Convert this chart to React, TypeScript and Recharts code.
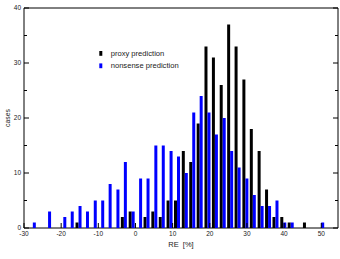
import React from 'react';
import { BarChart, Bar, XAxis, YAxis, Legend, ReferenceArea } from 'recharts';

// histogram bins (centre of each bin, RE in %)
const binCenters = [
  -27.7, -25.6, -23.6, -21.6, -19.5, -17.5, -15.4, -13.4, -11.3, -9.3,
  -7.3, -5.2, -3.2, -1.1, 0.9, 2.9, 5.0, 7.0, 9.1, 11.1,
  13.2, 15.2, 17.2, 19.3, 21.3, 23.4, 25.4, 27.4, 29.5, 31.5,
  33.6, 35.6, 37.6, 39.7, 41.7, 43.8, 45.8, 47.8, 49.9,
];

const proxyCases = [
  0, 0, 0, 0, 0, 0, 1, 0, 0, 0,
  0, 0, 2, 3, 0, 2, 3, 2, 5, 5,
  14, 12, 19, 33, 31, 26, 37, 33, 27, 18,
  14, 7, 2, 2, 1, 0, 1, 0, 0,
];

const nonsenseCases = [
  1, 0, 3, 0, 2, 3, 4, 3, 5, 5,
  8, 7, 12, 3, 9, 9, 15, 15, 14, 13,
  10, 21, 24, 21, 17, 20, 14, 11, 9, 6,
  4, 4, 5, 1, 1, 0, 0, 0, 1,
];

const seriesNames = ['proxy prediction', 'nonsense prediction'];
const xTicks = [-30, -20, -10, 0, 10, 20, 30, 40, 50];
const yTicks = [0, 5, 10, 15, 20, 25, 30, 35, 40];

const data = binCenters.map((x, i) => ({
  x,
  proxy: proxyCases[i],
  nonsense: nonsenseCases[i],
}));

const FONT = '"Liberation Sans", Arial, sans-serif';
const TEXT_COLOR = '#222';

// bottom ticks: label below, tick mark pointing into the plot
const BottomTick = (props: any) => {
  const { x, y, payload } = props;
  const axisY = y - 3;
  return (
    <g>
      <line x1={x} x2={x} y1={axisY} y2={axisY - 5} stroke="#000" />
      <text x={x} y={y} dy="0.71em" textAnchor="middle" fontSize={6.5} fontFamily={FONT} fill={TEXT_COLOR}>
        {payload.value}
      </text>
    </g>
  );
};

const LeftTick = (props: any) => {
  const { x, y, payload } = props;
  const axisX = x + 3;
  const major = payload.value % 10 === 0;
  return (
    <g>
      <line x1={axisX} x2={axisX + (major ? 5 : 3)} y1={y} y2={y} stroke="#000" />
      {major && (
        <text x={x} y={y} dy="0.35em" textAnchor="end" fontSize={6.5} fontFamily={FONT} fill={TEXT_COLOR}>
          {payload.value}
        </text>
      )}
    </g>
  );
};

const RightTick = (props: any) => {
  const { x, y, payload } = props;
  const major = payload.value % 10 === 0;
  return <line x1={x} x2={x - (major ? 5 : 3)} y1={y} y2={y} stroke="#000" />;
};

const renderLegend = (props: any) => {
  const items = [...(props.payload || [])].sort(
    (a: any, b: any) => seriesNames.indexOf(a.value) - seriesNames.indexOf(b.value)
  );
  return (
    <svg width={100} height={26}>
      {items.map((entry: any, i: number) => (
        <g key={entry.value}>
          <rect x={3.3} y={6 + i * 12.4} width={3} height={4.8} fill={entry.color} />
          <text
            x={14.7}
            y={8.3 + i * 12.4}
            dy="0.35em"
            fontSize={7.6}
            fontFamily={FONT}
            fill={TEXT_COLOR}
          >
            {entry.value}
          </text>
        </g>
      ))}
    </svg>
  );
};

export default function App() {
  return (
    <div style={{ position: 'absolute', left: 0, top: 0, background: '#fff' }}>
      <BarChart
        width={340}
        height={259}
        data={data}
        margin={{ top: 8, right: 0, bottom: 0, left: 0 }}
        barSize={3}
        barGap={0}
      >
        <XAxis
          dataKey="x"
          type="number"
          domain={[-30, 54.5]}
          ticks={xTicks}
          allowDataOverflow
          height={31}
          axisLine={false}
          tickLine={false}
          tickSize={0}
          tickMargin={3}
          tick={<BottomTick />}
          interval={0}
          label={{
            value: 'RE\u00a0 [%]',
            position: 'insideBottom',
            offset: 12,
            fontSize: 7.5,
            fontFamily: FONT,
            fill: TEXT_COLOR,
          }}
        />
        <YAxis
          yAxisId="left"
          domain={[0, 40]}
          ticks={yTicks}
          allowDataOverflow
          width={24}
          axisLine={false}
          tickLine={false}
          tickSize={0}
          tickMargin={3}
          tick={<LeftTick />}
          interval={0}
          label={{
            value: 'cases',
            angle: -90,
            position: 'center',
            dx: -4,
            fontSize: 6.8,
            fontFamily: FONT,
            fill: TEXT_COLOR,
          }}
        />
        <YAxis
          yAxisId="right"
          orientation="right"
          domain={[0, 40]}
          ticks={yTicks}
          allowDataOverflow
          width={2}
          axisLine={false}
          tickLine={false}
          tickSize={0}
          tickMargin={0}
          tick={<RightTick />}
          interval={0}
        />
        <Legend
          layout="horizontal"
          verticalAlign="middle"
          align="center"
          content={renderLegend}
          wrapperStyle={{ left: 96, top: 45, width: 100, height: 26 }}
        />
        <Bar yAxisId="left" dataKey="proxy" name={seriesNames[0]} fill="#000000" isAnimationActive={false} />
        <Bar yAxisId="left" dataKey="nonsense" name={seriesNames[1]} fill="#0000ff" isAnimationActive={false} />
        <ReferenceArea
          yAxisId="left"
          x1={-30}
          x2={54.5}
          y1={0}
          y2={40}
          fill="none"
          stroke="#000"
          strokeWidth={1}
          ifOverflow="visible"
        />
      </BarChart>
    </div>
  );
}
